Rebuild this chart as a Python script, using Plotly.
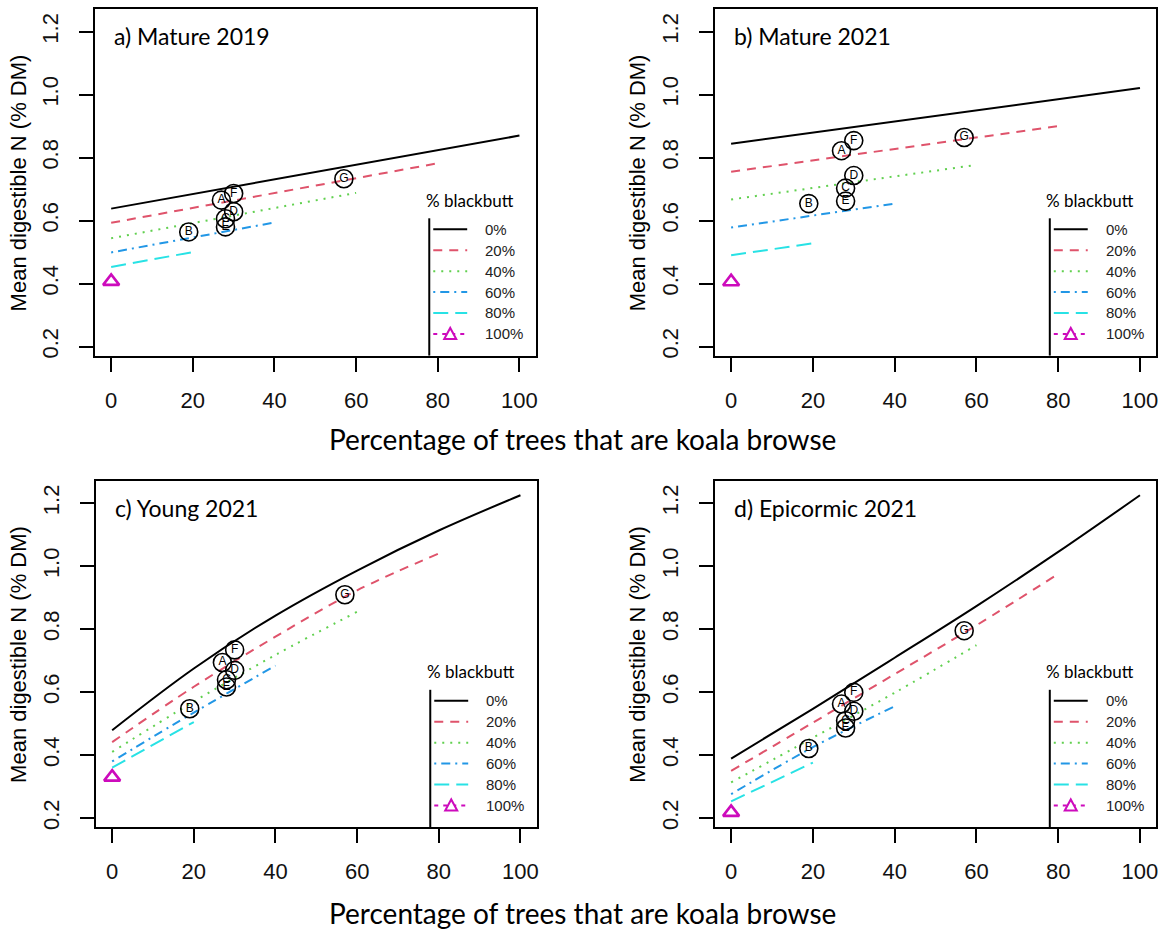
import plotly.graph_objects as go

W, H = 1168, 942

# ---- data -----------------------------------------------------------------
blackbutt_levels = ["0%", "20%", "40%", "60%", "80%", "100%"]
level_colors = ["#000000", "#DF536B", "#61D04F", "#2297E6", "#28E2E5", "#CD0BBC"]
level_dashes = ["solid", "9px,7px", "2px,6px", "2px,5px,9px,5px", "15px,7px", "4px,5px"]

sites = ["A", "B", "C", "D", "E", "F", "G"]
site_browse_pct = [27, 19, 28, 30, 28, 30, 57]

panel_titles = ["a) Mature 2019", "b) Mature 2021", "c) Young 2021", "d) Epicormic 2021"]

# fitted digestible N for 0-80 % blackbutt (x = % koala browse trees)
mature2019_x = [[0, 100], [0, 80], [0, 60], [0, 40], [0, 20]]
mature2019_y = [[0.638, 0.870], [0.593, 0.782], [0.544, 0.688], [0.499, 0.594], [0.453, 0.500]]
mature2019_pure_bb = 0.407
mature2019_sites = [0.665, 0.564, 0.606, 0.628, 0.580, 0.686, 0.733]

mature2021_x = [[0, 100], [0, 80], [0, 60], [0, 40], [0, 20]]
mature2021_y = [[0.844, 1.021], [0.755, 0.900], [0.667, 0.777], [0.578, 0.654], [0.490, 0.528]]
mature2021_pure_bb = 0.406
mature2021_sites = [0.822, 0.654, 0.703, 0.743, 0.662, 0.854, 0.864]

young2021_x = [[0, 20, 40, 60, 80, 100], [0, 20, 40, 60, 80], [0, 20, 40, 60], [0, 20, 40], [0, 20]]
young2021_y = [[0.479, 0.675, 0.843, 0.986, 1.113, 1.225],
               [0.441, 0.617, 0.776, 0.923, 1.040],
               [0.410, 0.570, 0.718, 0.855],
               [0.380, 0.535, 0.684],
               [0.360, 0.505]]
young2021_pure_bb = 0.330
young2021_sites = [0.694, 0.547, 0.639, 0.669, 0.616, 0.734, 0.909]

epicormic2021_x = [[0, 20, 40, 60, 80, 100], [0, 20, 40, 60, 80], [0, 20, 40, 60], [0, 20, 40], [0, 20]]
epicormic2021_y = [[0.389, 0.547, 0.709, 0.873, 1.045, 1.225],
                   [0.350, 0.503, 0.657, 0.812, 0.975],
                   [0.313, 0.455, 0.598, 0.749],
                   [0.276, 0.425, 0.555],
                   [0.253, 0.376]]
epicormic2021_pure_bb = 0.218
epicormic2021_sites = [0.562, 0.421, 0.509, 0.539, 0.486, 0.599, 0.795]

x_ticks = [0, 20, 40, 60, 80, 100]
y_ticks = [0.2, 0.4, 0.6, 0.8, 1.0, 1.2]
y_ticktext = ["0.2", "0.4", "0.6", "0.8", "1.0", "1.2"]

panels = [
    (mature2019_x, mature2019_y, mature2019_pure_bb, mature2019_sites),
    (mature2021_x, mature2021_y, mature2021_pure_bb, mature2021_sites),
    (young2021_x, young2021_y, young2021_pure_bb, young2021_sites),
    (epicormic2021_x, epicormic2021_y, epicormic2021_pure_bb, epicormic2021_sites),
]

# ---- layout geometry (pixels) ----------------------------------------------
boxes = [(95, 9.3, 536.7, 356.7), (716, 9.3, 1158.3, 356.7),
         (96, 482.3, 537.7, 829.7), (716, 482.3, 1158.3, 829.7)]

def px(x):
    return x / W

def py(y):
    return 1 - y / H

R_FONT = "Liberation Sans, Arial, sans-serif"
C_FONT = "Lato, Open Sans, sans-serif"

fig = go.Figure()
layout = dict(width=W, height=H, margin=dict(l=0, r=0, t=0, b=0),
              paper_bgcolor="white", plot_bgcolor="white", showlegend=False)
annotations = []
shapes = []

for i, (xs, ys, pure, site_vals) in enumerate(panels):
    n = i + 1
    xa = "x" if n == 1 else f"x{n}"
    ya = "y" if n == 1 else f"y{n}"
    l, t, r, b = boxes[i]
    axis_common = dict(showline=True, mirror=True, linecolor="black", linewidth=2,
                       ticks="outside", ticklen=14, tickwidth=2, tickcolor="black",
                       showgrid=False, zeroline=False,
                       tickfont=dict(family=R_FONT, size=22, color="#111"))
    layout["xaxis" if n == 1 else f"xaxis{n}"] = dict(
        domain=[px(l), px(r)], range=[-4, 104], anchor=ya,
        tickvals=x_ticks, ticktext=[str(v) for v in x_ticks],
        ticklabelstandoff=10, **axis_common)
    layout["yaxis" if n == 1 else f"yaxis{n}"] = dict(
        domain=[py(b), py(t)], range=[0.1715, 1.271], anchor=xa,
        tickvals=y_ticks, ticktext=y_ticktext, tickangle=-90,
        ticklabelstandoff=12, **axis_common)

    for k in range(5):
        fig.add_trace(go.Scatter(x=xs[k], y=ys[k], mode="lines", xaxis=xa, yaxis=ya,
                                 line=dict(color=level_colors[k], width=2,
                                           dash=level_dashes[k], shape="spline"),
                                 hoverinfo="skip"))
    fig.add_trace(go.Scatter(x=[0], y=[pure], mode="markers", xaxis=xa, yaxis=ya,
                             marker=dict(symbol="triangle-up-open", size=14,
                                         color=level_colors[5],
                                         line=dict(width=2.6, color=level_colors[5]))))
    fig.add_trace(go.Scatter(x=site_browse_pct, y=site_vals, mode="markers+text",
                             xaxis=xa, yaxis=ya, text=sites, textposition="middle center",
                             textfont=dict(family=R_FONT, size=12, color="black"),
                             marker=dict(symbol="circle-open", size=18, color="black",
                                         line=dict(width=1.6, color="black"))))

    # panel label
    annotations.append(dict(text=panel_titles[i], x=px(l + 17), y=py(t + 27),
                            xref="paper", yref="paper", xanchor="left", yanchor="middle",
                            showarrow=False, font=dict(family=C_FONT, size=23, color="black")))
    # y axis title
    annotations.append(dict(text="Mean digestible N (% DM)", x=px(l - 77), y=py((t + b) / 2),
                            xref="paper", yref="paper", textangle=-90,
                            xanchor="center", yanchor="middle", showarrow=False,
                            font=dict(family=R_FONT, size=22, color="black")))

    # legend block in the lower-right corner
    annotations.append(dict(text="% blackbutt", x=px(r - 66), y=py(b - 156),
                            xref="paper", yref="paper", xanchor="center", yanchor="middle",
                            showarrow=False, font=dict(family=C_FONT, size=17, color="black")))
    shapes.append(dict(type="line", xref="paper", yref="paper",
                       x0=px(r - 106.7), x1=px(r - 106.7), y0=py(b - 137.7), y1=py(b),
                       line=dict(color="black", width=2)))
    for k, lab in enumerate(blackbutt_levels):
        row_y = b - 21.7 - 21 * (5 - k)
        shapes.append(dict(type="line", xref="paper", yref="paper",
                           x0=px(r - 102.7), x1=px(r - 68.7), y0=py(row_y), y1=py(row_y),
                           line=dict(color=level_colors[k], width=2, dash=level_dashes[k])))
        if k == 5:
            cx, cy = r - 85.7, row_y
            tri = (f"M {px(cx - 6)} {py(cy + 5)} L {px(cx + 6)} {py(cy + 5)} "
                   f"L {px(cx)} {py(cy - 6)} Z")
            shapes.append(dict(type="path", xref="paper", yref="paper", path=tri,
                               fillcolor="white", line=dict(color=level_colors[5], width=2)))
        annotations.append(dict(text=lab, x=px(r - 52.7), y=py(row_y),
                                xref="paper", yref="paper", xanchor="left", yanchor="middle",
                                showarrow=False, font=dict(family=R_FONT, size=15, color="#222")))

# shared x-axis titles
for yc in (440, 916):
    annotations.append(dict(text="Percentage of trees that are koala browse",
                            x=px(583), y=py(yc), xref="paper", yref="paper",
                            xanchor="center", yanchor="middle", showarrow=False,
                            font=dict(family=C_FONT, size=28, color="black")))

layout["annotations"] = annotations
layout["shapes"] = shapes
fig.update_layout(**layout)
fig.write_html("out.html")
